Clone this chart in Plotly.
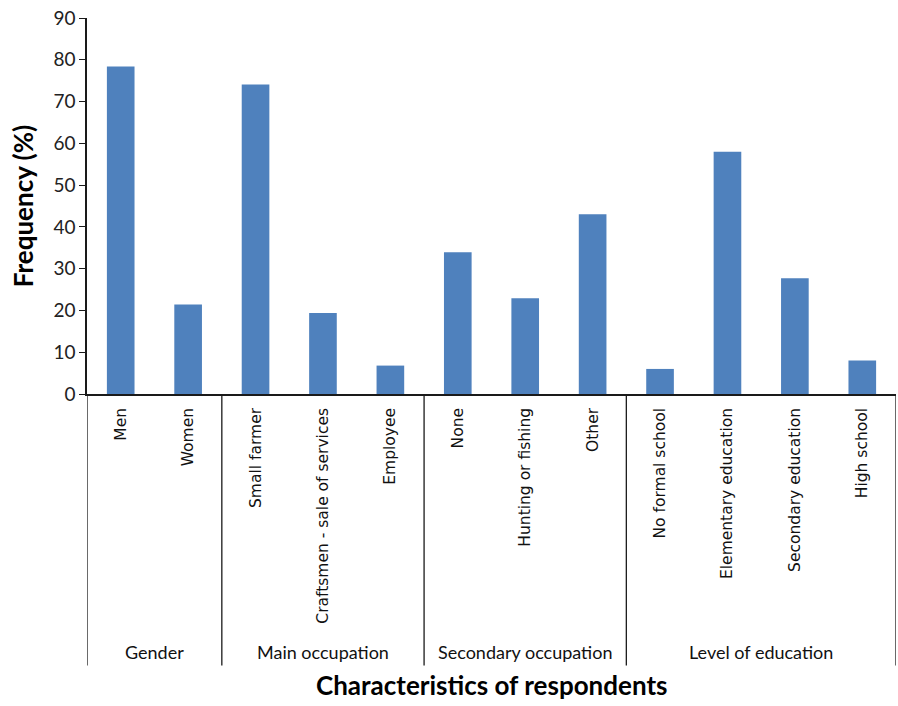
import plotly.graph_objects as go

categories = ["Men", "Women", "Small farmer", "Craftsmen - sale of services", "Employee",
              "None", "Hunting or fishing", "Other",
              "No formal school", "Elementary education", "Secondary education", "High school"]
values = [78.4, 21.4, 74.1, 19.4, 6.8, 33.9, 22.9, 43.0, 6.0, 58.0, 27.7, 8.0]
group_names = ["Gender", "Main occupation", "Secondary occupation", "Level of education"]
group_sizes = [2, 3, 3, 4]

BAR = "#4F81BD"
LINE = "#1a1a1a"

fig = go.Figure()
fig.add_trace(go.Bar(
    x=list(range(len(categories))), y=values,
    marker=dict(color=BAR, line=dict(width=0)),
    width=0.41,
))

# group dividers and labels
GROUP_BOTTOM = -0.722
shapes = []
annotations = []
start = 0
bounds = [-0.5]
for name, size in zip(group_names, group_sizes):
    end = start + size
    bounds.append(end - 0.5)
    annotations.append(dict(
        x=(start + end - 1) / 2, y=-0.686, xref="x", yref="paper",
        text=name, showarrow=False, xanchor="center", yanchor="middle",
        font=dict(family="Lato", size=18, color="#111"),
    ))
    start = end
for b in bounds:
    shapes.append(dict(type="line", xref="x", yref="paper", x0=b, x1=b,
                       y0=0, y1=GROUP_BOTTOM, line=dict(color=LINE, width=1.3)))

annotations.append(dict(
    x=0.5, y=-0.775, xref="paper", yref="paper",
    text="<b>Characteristics of respondents</b>", showarrow=False,
    xanchor="center", yanchor="middle",
    font=dict(family="Lato", size=26, color="#000"),
))

fig.update_layout(
    width=898, height=706,
    margin=dict(l=87, r=2, t=18, b=312),
    paper_bgcolor="white", plot_bgcolor="white",
    showlegend=False,
    shapes=shapes,
    annotations=annotations,
    xaxis=dict(
        range=[-0.5, len(categories) - 0.5],
        tickmode="array", tickvals=list(range(len(categories))), ticktext=categories,
        tickangle=-90, ticks="", showgrid=False, zeroline=False,
        showline=True, linecolor=LINE, linewidth=1.5,
        tickfont=dict(family="DejaVu Sans", size=15.5, color="#111"),
        ticklabelstandoff=6, automargin=False,
    ),
    yaxis=dict(
        range=[0, 90], dtick=10, showgrid=False, zeroline=False,
        showline=True, linecolor=LINE, linewidth=1.5,
        ticks="outside", ticklen=6, tickcolor=LINE, tickwidth=1.3,
        tickfont=dict(family="Lato", size=19, color="#222"),
        ticklabeloverflow="allow", automargin=False,
        title=dict(text="<b>Frequency (%)</b>", font=dict(family="Lato", size=26, color="#000"),
                   standoff=12),
    ),
)

fig.write_html(
    "out.html",
    config={"displayModeBar": False},
    post_script="document.body.style.margin='0';document.body.style.overflow='hidden';",
)
